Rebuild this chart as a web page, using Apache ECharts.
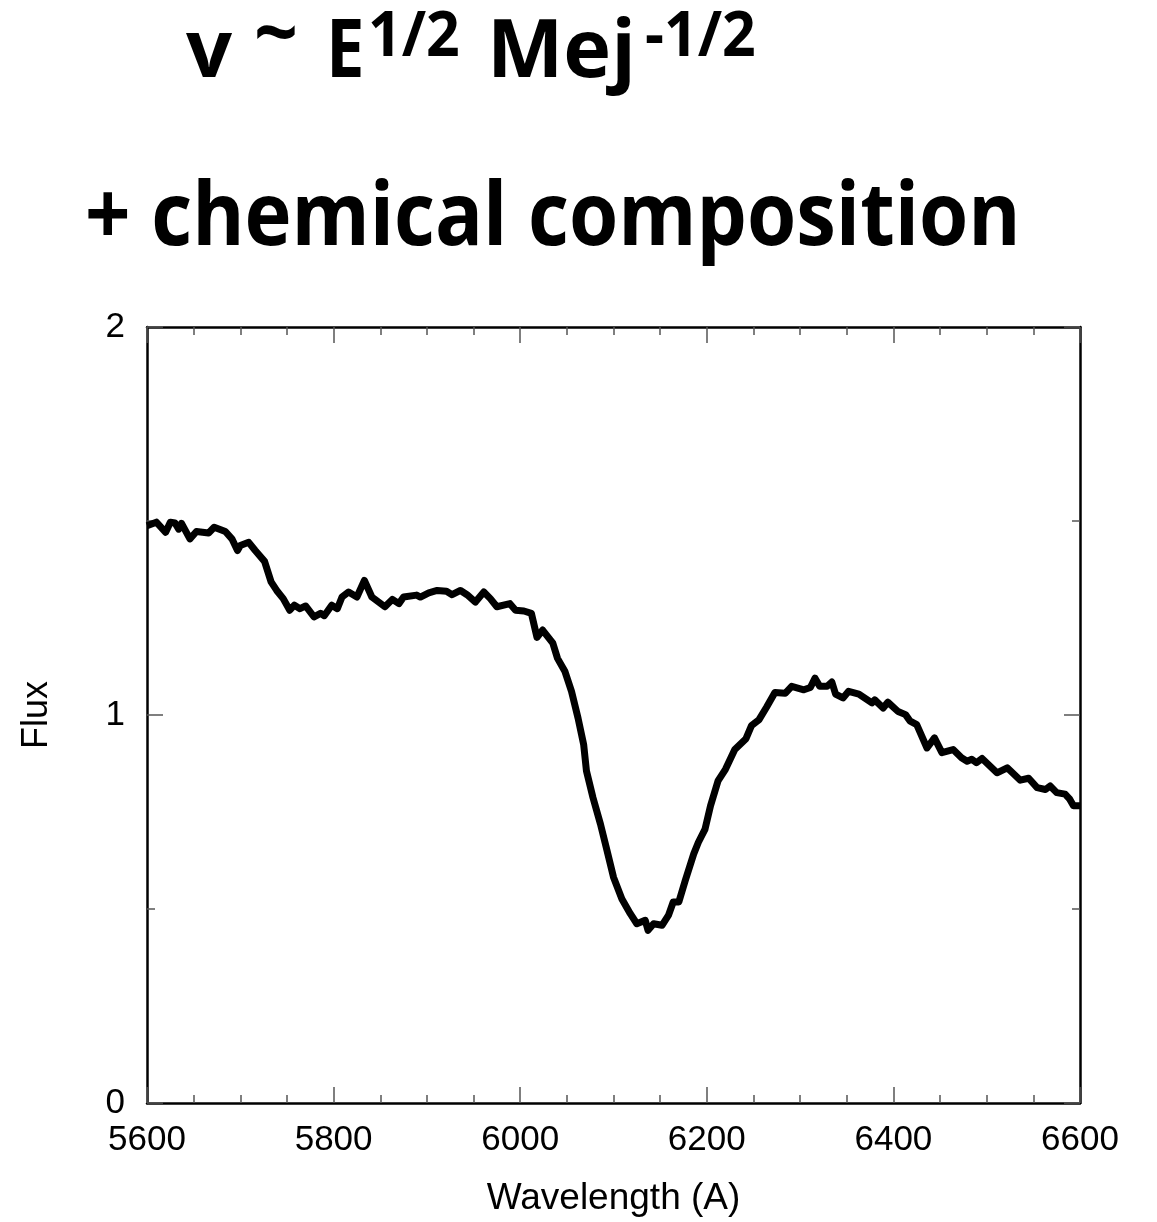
<!DOCTYPE html>
<html>
<head>
<meta charset="utf-8">
<script src="https://cdn.jsdelivr.net/npm/echarts@6/dist/echarts.min.js"></script>
<style>
  html, body { margin: 0; padding: 0; background: #fff; }
  #chart { width: 1157px; height: 1222px; }
</style>
</head>
<body>
<div id="chart"></div>
<script>
// spectrum
var wavelength = [5600, 5610, 5620, 5625, 5630, 5634, 5637, 5646, 5653, 5666, 5672, 5684, 5691, 5697, 5700,
	5709, 5716, 5726, 5733, 5739, 5746, 5753, 5758, 5764, 5770, 5779, 5786, 5790, 5798, 5804, 5809, 5816,
	5825, 5833, 5841, 5855, 5863, 5870, 5875, 5889, 5893, 5902, 5911, 5921, 5927, 5936, 5943, 5952, 5961,
	5968, 5975, 5989, 5995, 6004, 6012, 6018, 6024, 6035, 6040, 6048, 6055, 6062, 6068, 6071, 6078, 6086,
	6093, 6100, 6109, 6118, 6125, 6134, 6137, 6143, 6152, 6159, 6164, 6170, 6177, 6186, 6191, 6198, 6204,
	6212, 6220, 6230, 6242, 6248, 6256, 6264, 6273, 6284, 6291, 6304, 6311, 6316, 6321, 6329, 6334, 6338,
	6346, 6352, 6363, 6377, 6380, 6389, 6394, 6405, 6413, 6418, 6425, 6436, 6444, 6452, 6464, 6473, 6479,
	6484, 6489, 6495, 6511, 6522, 6536, 6545, 6554, 6563, 6568, 6575, 6584, 6589, 6593, 6600];
var flux = [1.488, 1.497, 1.471, 1.497, 1.495, 1.479, 1.494, 1.454, 1.473, 1.469, 1.484, 1.473, 1.454, 1.424, 1.437,
	1.445, 1.424, 1.396, 1.343, 1.321, 1.300, 1.270, 1.283, 1.274, 1.281, 1.253, 1.262, 1.256, 1.283, 1.274, 1.304, 1.317,
	1.304, 1.347, 1.304, 1.279, 1.298, 1.287, 1.304, 1.309, 1.304, 1.315, 1.321, 1.319, 1.310, 1.321, 1.310, 1.291, 1.317,
	1.300, 1.279, 1.287, 1.270, 1.268, 1.262, 1.200, 1.219, 1.185, 1.146, 1.112, 1.061, 0.992, 0.924, 0.856, 0.787, 0.719,
	0.651, 0.582, 0.526, 0.488, 0.462, 0.471, 0.445, 0.462, 0.458, 0.484, 0.518, 0.518, 0.574, 0.642, 0.672, 0.705, 0.766,
	0.830, 0.860, 0.911, 0.939, 0.973, 0.988, 1.020, 1.058, 1.056, 1.074, 1.065, 1.071, 1.095, 1.074, 1.074, 1.085, 1.054,
	1.044, 1.061, 1.054, 1.031, 1.039, 1.018, 1.033, 1.009, 1.001, 0.984, 0.975, 0.915, 0.941, 0.903, 0.911, 0.890, 0.881,
	0.886, 0.877, 0.888, 0.851, 0.864, 0.832, 0.837, 0.813, 0.808, 0.817, 0.800, 0.796, 0.783, 0.766, 0.766];

var pts = [];
for (var i = 0; i < wavelength.length; i++) {
	pts.push([wavelength[i], flux[i]]);
}

var tickFont = 'Liberation Sans, Arial, sans-serif';
var headFont = 'Open Sans, sans-serif';

// heading pieces, placed one by one so the superscripts sit right
function headText(str, x, y, size, sx) {
	return {
		type: 'text', x: x, y: y, scaleX: sx || 0.9, silent: true,
		style: {
			text: str, x: 0, y: 0, fill: '#000',
			font: 'bold ' + size + 'px ' + headFont,
			align: 'left', verticalAlign: 'middle'
		}
	};
}

function frameAxis(extra) {
	var a = {
		axisLine: { show: true, onZero: false, lineStyle: { color: '#000', width: 2.5 } },
		axisTick: { show: true, inside: true, length: 16, lineStyle: { color: '#555', width: 1.5 } },
		splitLine: { show: false },
		minorSplitLine: { show: false }
	};
	for (var k in extra) a[k] = extra[k];
	return a;
}

var myChart = echarts.init(document.getElementById('chart'));
var option = {
	backgroundColor: '#fff',
	animation: false,
	graphic: [
		headText('v', 186, 54, 81, 1),
		headText('~', 254, 38, 81, 0.95),
		headText('E', 326, 54, 81, 0.85),
		headText('1/2', 368, 38, 62, 0.95),
		headText('Mej', 487, 54, 81, 1),
		headText('-1/2', 645, 38, 62, 0.95),
		headText('+ chemical composition', 85, 220, 88, 0.905)
	],
	grid: { left: 147, right: 77, top: 327, bottom: 115, containLabel: false },
	xAxis: [
		frameAxis({
			type: 'value', min: 5600, max: 6600, interval: 200,
			minorTick: { show: true, splitNumber: 4, length: 8, lineStyle: { color: '#555', width: 1.5 } },
			name: 'Wavelength (A)', nameLocation: 'middle', nameGap: 77,
			nameTextStyle: { fontFamily: tickFont, fontSize: 37, color: '#000' },
			axisLabel: {
				margin: 20, fontFamily: tickFont, fontSize: 35, color: '#000',
				formatter: function (v) { return String(v); }
			}
		}),
		frameAxis({
			type: 'value', position: 'top', min: 5600, max: 6600, interval: 200,
			minorTick: { show: true, splitNumber: 4, length: 8, lineStyle: { color: '#555', width: 1.5 } },
			axisLabel: { show: false }
		})
	],
	yAxis: [
		frameAxis({
			type: 'value', min: 0, max: 2, interval: 1,
			minorTick: { show: true, splitNumber: 2, length: 8, lineStyle: { color: '#555', width: 1.5 } },
			name: 'Flux', nameLocation: 'middle', nameGap: 92, nameRotate: 90,
			nameTextStyle: { fontFamily: tickFont, fontSize: 36, color: '#000' },
			axisLabel: { margin: 22, fontFamily: tickFont, fontSize: 35, color: '#000' }
		}),
		frameAxis({
			type: 'value', position: 'right', min: 0, max: 2, interval: 1,
			minorTick: { show: true, splitNumber: 2, length: 8, lineStyle: { color: '#555', width: 1.5 } },
			axisLabel: { show: false }
		})
	],
	series: [{
		name: 'spectrum',
		type: 'line',
		data: pts,
		showSymbol: false,
		clip: true,
		lineStyle: { color: '#000', width: 7, join: 'round' }
	}]
};
myChart.setOption(option);
</script>
</body>
</html>
